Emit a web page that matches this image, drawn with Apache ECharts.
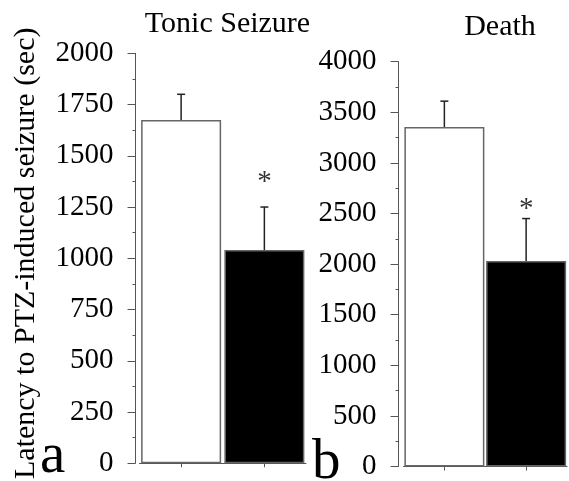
<!DOCTYPE html>
<html><head><meta charset="utf-8">
<script src="https://cdn.jsdelivr.net/npm/echarts@6/dist/echarts.min.js"></script>
<style>html,body{margin:0;padding:0;background:#fff}#c{width:569px;height:481px}</style>
</head><body><div id="c"></div>
<script>
// ---- data ----
const categories = ['Control', 'Treated'];
const tonicMeans = [1675, 1040];
const tonicErrors = [125, 210];
const tonicStars = ['-', 1406];
const deathMeans = [3355, 2030];
const deathErrors = [255, 420];
const deathStars = ['-', 2614];
const tonicAxis = { min: 0, max: 2000, interval: 250 };
const deathAxis = { min: 0, max: 4000, interval: 500 };
const panelTitles = ['Tonic Seizure', 'Death'];
const panelLetters = ['a', 'b'];
const yAxisName = 'Latency to PTZ-induced seizure (sec)';
const barColors = ['#ffffff', '#000000'];

const FONT = 'Liberation Serif';
const AX = '#555';

function errRender(params, api) {
  const x = api.value(0), v = api.value(1), e = api.value(2);
  const base = api.coord([x, v]);
  const top = api.coord([x, v + e]);
  const hw = 4;
  return { type: 'group', children: [
    { type: 'line', shape: { x1: base[0], y1: base[1], x2: top[0], y2: top[1] }, style: { stroke: '#222', lineWidth: 1.5 } },
    { type: 'line', shape: { x1: top[0] - hw, y1: top[1], x2: top[0] + hw, y2: top[1] }, style: { stroke: '#222', lineWidth: 1.5 } }
  ]};
}

function xAx(gi) {
  return {
    type: 'category', gridIndex: gi, data: categories,
    axisLine: { show: true, lineStyle: { color: AX, width: 1 } },
    axisTick: { show: true, alignWithLabel: true, length: 4, lineStyle: { color: AX } },
    axisLabel: { show: false }, splitLine: { show: false }
  };
}
function yAx(gi, ax, offset, extra) {
  return Object.assign({
    type: 'value', gridIndex: gi, min: ax.min, max: ax.max, interval: ax.interval, offset: offset,
    axisLine: { show: true, lineStyle: { color: AX, width: 1 } },
    axisTick: { show: true, length: 8, lineStyle: { color: AX } },
    minorTick: { show: true, splitNumber: 2, length: 3, lineStyle: { color: AX } },
    splitLine: { show: false }, minorSplitLine: { show: false },
    axisLabel: { color: '#000', fontFamily: FONT, fontSize: 29, margin: 22, padding: [7, 0, 0, 0], formatter: v => String(v) }
  }, extra || {});
}

function barSeries(gi, means) {
  return {
    type: 'bar', xAxisIndex: gi, yAxisIndex: gi, barWidth: 80,
    data: means.map((v, i) => ({ value: v, itemStyle: { color: barColors[i], borderColor: '#666', borderWidth: 1.5 } }))
  };
}
function errSeries(gi, means, errs) {
  return {
    type: 'custom', xAxisIndex: gi, yAxisIndex: gi, z: 5,
    renderItem: errRender, encode: { x: 0, y: 1 },
    data: means.map((v, i) => [i, v, errs[i]])
  };
}
function starSeries(gi, stars) {
  return {
    type: 'scatter', xAxisIndex: gi, yAxisIndex: gi, symbolSize: 1, z: 6,
    itemStyle: { color: 'rgba(0,0,0,0)' },
    label: { show: true, position: 'inside', formatter: '*', color: '#000', fontFamily: FONT, fontSize: 29, offset: [0, 7] },
    data: stars
  };
}

const chart = echarts.init(document.getElementById('c'), null, { renderer: 'canvas' });
chart.setOption({
  animation: false,
  backgroundColor: '#fff',
  grid: [
    { left: 139.5, top: 53.3, width: 166.5, height: 413.4 },
    { left: 403.5, top: 61.7, width: 163.5, height: 405 }
  ],
  xAxis: [xAx(0), xAx(1)],
  yAxis: [
    yAx(0, tonicAxis, 4, {
      name: yAxisName, nameLocation: 'middle', nameRotate: 90, nameGap: 94,
      nameTextStyle: { color: '#000', fontFamily: FONT, fontSize: 30, padding: [0, 0, 0, 10] }
    }),
    yAx(1, deathAxis, 5)
  ],
  series: [
    barSeries(0, tonicMeans), errSeries(0, tonicMeans, tonicErrors), starSeries(0, tonicStars),
    barSeries(1, deathMeans), errSeries(1, deathMeans, deathErrors), starSeries(1, deathStars)
  ],
  graphic: [
    { type: 'text', x: 227.5, y: 9, style: { text: panelTitles[0], font: '30px "Liberation Serif"', fill: '#000', textAlign: 'center', textVerticalAlign: 'top' } },
    { type: 'text', x: 500, y: 12, style: { text: panelTitles[1], font: '30px "Liberation Serif"', fill: '#000', textAlign: 'center', textVerticalAlign: 'top' } },
    { type: 'text', x: 40, y: 429, style: { text: panelLetters[0], font: '57px "Liberation Serif"', fill: '#000', textAlign: 'left', textVerticalAlign: 'top' } },
    { type: 'text', x: 312, y: 435, style: { text: panelLetters[1], font: '57px "Liberation Serif"', fill: '#000', textAlign: 'left', textVerticalAlign: 'top' } }
  ]
});
</script></body></html>
